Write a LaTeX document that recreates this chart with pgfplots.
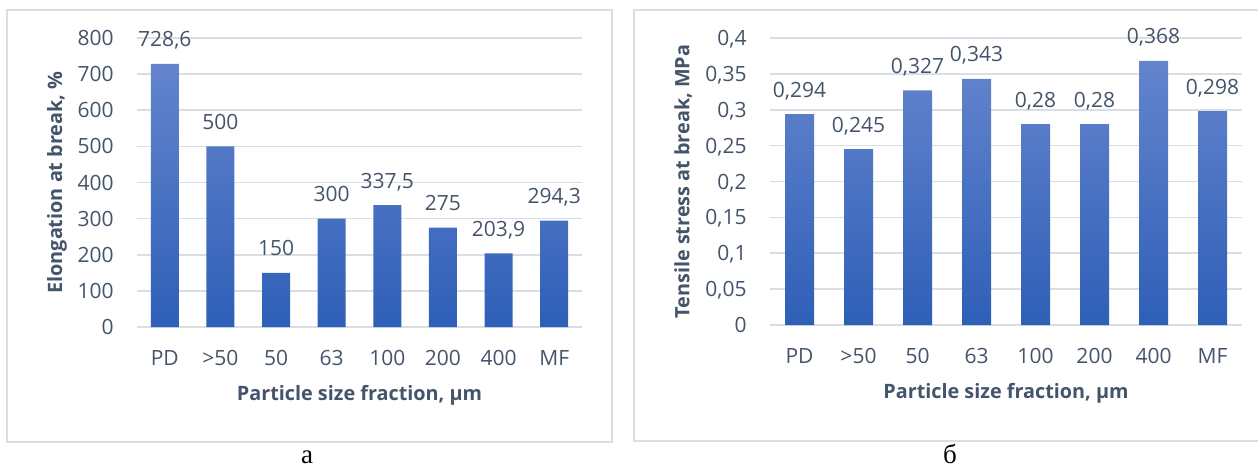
\documentclass[border=0pt]{standalone}
\usepackage{pgfplots}
\pgfplotsset{compat=1.18}
\usepackage{fontspec}
\setmainfont{Open Sans}
\newfontfamily\serifcyr{Liberation Serif}
\definecolor{txt}{RGB}{68,84,106}
\definecolor{gridc}{RGB}{217,221,228}
\definecolor{boxc}{RGB}{217,222,230}
\definecolor{bartop}{RGB}{100,132,205}
\definecolor{barbot}{RGB}{46,95,183}
\pgfplotsset{
  mybars/.style={
    scale only axis, anchor=south west, clip=false,
    xmin=-0.5, xmax=7.5, xtick={0,...,7},
    xticklabels={PD,{>50},50,63,100,200,400,MF},
    ymin=0,
    scaled ticks=false,
    axis line style={draw=none},
    tick style={draw=none},
    major tick length=0pt,
    ymajorgrids,
    grid style={gridc, line width=0.8pt},
    /pgf/number format/.cd, fixed, use comma, 1000 sep={}, assume math mode=true,
    /pgfplots/.cd,
    ticklabel style={font=\fontsize{10.5}{12}\selectfont, text=txt},
    yticklabel style={anchor=base east, inner sep=0pt, xshift=-11.5pt, yshift=-3.75pt},
    xticklabel style={anchor=base, inner sep=0pt, yshift=-19pt},
    label style={font=\fontsize{9.9}{11}\selectfont\bfseries, text=txt},
    every node near coord/.append style={font=\fontsize{10.5}{12}\selectfont, text=txt, anchor=base, yshift=8.5pt, inner sep=0pt},
  }
}
\begin{document}
\begin{tikzpicture}[x=0.5pt, y=0.5pt]
\useasboundingbox (0,0) rectangle (1258,468);
\draw[boxc, line width=0.7pt] (7,26) rectangle (612,458);
\draw[boxc, line width=0.7pt] (634,27) rectangle (1275,458);
\node[anchor=base, text=black, font=\serifcyr\fontsize{13.5}{15}\selectfont] at (307,5) {а};
\node[anchor=base, text=black, font=\serifcyr\fontsize{13.5}{15}\selectfont] at (950,5) {б};

\begin{axis}[mybars,
  at={(68.5pt,70.5pt)}, width=222.5pt, height=144.5pt,
  ymax=800, ytick={0,100,200,300,400,500,600,700,800},
  xlabel={Particle size fraction, µm},
  ylabel={Elongation at break, \%},
  xlabel style={at={(axis description cs:0.5,-0.235)}, anchor=center},
  ylabel style={at={(axis description cs:-0.18,0.5)}, anchor=center},
]
\addplot[ybar, bar width=14pt, draw=none, top color=bartop, bottom color=barbot,
  nodes near coords={\pgfmathprintnumber[fixed, precision=3]{\pgfplotspointmeta}}]
  coordinates {(0,728.6) (1,500) (2,150) (3,300) (4,337.5) (5,275) (6,203.9) (7,294.3)};
\end{axis}

\begin{axis}[mybars,
  at={(385pt,71.5pt)}, width=236pt, height=143.5pt,
  ymax=0.4, ytick={0,0.05,0.1,0.15,0.2,0.25,0.3,0.35,0.4},
  xlabel={Particle size fraction, µm},
  ylabel={Tensile stress at break, MPa},
  xlabel style={at={(axis description cs:0.5,-0.237)}, anchor=center},
  ylabel style={at={(axis description cs:-0.184,0.5)}, anchor=center},
]
\addplot[ybar, bar width=14.5pt, draw=none, top color=bartop, bottom color=barbot,
  nodes near coords={\pgfmathprintnumber[fixed, precision=3]{\pgfplotspointmeta}}]
  coordinates {(0,0.294) (1,0.245) (2,0.327) (3,0.343) (4,0.28) (5,0.28) (6,0.368) (7,0.298)};
\end{axis}
\end{tikzpicture}
\end{document}
